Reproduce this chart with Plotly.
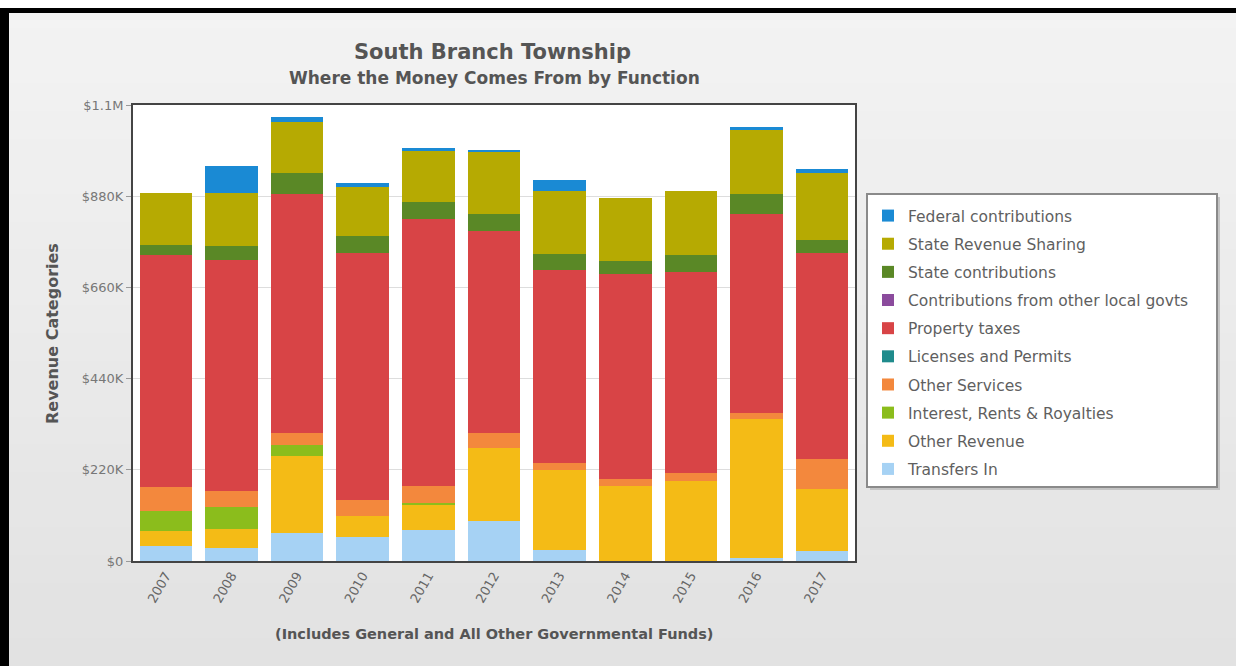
import plotly.graph_objects as go

years = ["2007", "2008", "2009", "2010", "2011", "2012", "2013", "2014", "2015", "2016", "2017"]

# values in thousands of dollars
transfers_in = [35, 32, 67, 59, 75, 97, 27, 0, 0, 8, 25]
other_revenue = [38, 45, 187, 50, 62, 175, 192, 180, 194, 335, 149]
interest_rents = [47, 53, 26, 0, 4, 0, 0, 0, 0, 0, 0]
other_services = [58, 40, 29, 38, 41, 36, 18, 18, 19, 14, 72]
licenses_permits = [0, 0, 0, 0, 0, 0, 0, 0, 0, 0, 0]
property_taxes = [559, 555, 576, 597, 642, 487, 466, 494, 484, 481, 496]
other_local = [0, 0, 0, 0, 0, 0, 0, 0, 0, 0, 0]
state_contrib = [26, 35, 52, 40, 42, 41, 38, 32, 40, 47, 32]
state_rev_sharing = [125, 127, 123, 117, 124, 153, 151, 151, 155, 157, 161]
federal = [0, 66, 10, 12, 6, 3, 27, 0, 0, 4, 10]

series = [
    ("Transfers In", transfers_in, "#a6d2f4"),
    ("Other Revenue", other_revenue, "#f4bb16"),
    ("Interest, Rents & Royalties", interest_rents, "#8bbd1c"),
    ("Other Services", other_services, "#f3883d"),
    ("Licenses and Permits", licenses_permits, "#1f8b8c"),
    ("Property taxes", property_taxes, "#d84446"),
    ("Contributions from other local govts", other_local, "#8b4b9d"),
    ("State contributions", state_contrib, "#5a8826"),
    ("State Revenue Sharing", state_rev_sharing, "#b6aa02"),
    ("Federal contributions", federal, "#1a8ad4"),
]

y_tickvals = [0, 220000, 440000, 660000, 880000, 1100000]
y_ticktext = ["$0", "$220K", "$440K", "$660K", "$880K", "$1.1M"]

fig = go.Figure()
n = len(series)
for i, (name, vals, color) in enumerate(series):
    fig.add_trace(go.Bar(
        x=years, y=[v * 1000 for v in vals], name=name,
        marker=dict(color=color, line=dict(width=0)),
        legendgroup=name, legendrank=n - i,
    ))

W, H = 1236, 666
L, R, T, B = 133, 855, 105, 561


def px(x):
    return (x - L) / (R - L)


def py(y):
    return (B - y) / (B - T)


font_main = "DejaVu Sans"

shapes = []
# subtle vertical gradient background
nb = 24
c_top, c_bot = 0xf3, 0xe2
for k in range(nb):
    y0 = k * H / nb
    y1 = (k + 1) * H / nb + 1
    c = round(c_top + (c_bot - c_top) * k / (nb - 1))
    shapes.append(dict(type="rect", xref="paper", yref="paper", x0=px(-5), x1=px(W + 5),
                       y0=py(y1), y1=py(y0), fillcolor=f"rgb({c},{c},{c})",
                       line=dict(width=0), layer="below"))
shapes += [
    # plot area
    dict(type="rect", xref="paper", yref="paper", x0=0, x1=1, y0=0, y1=1,
         fillcolor="white", line=dict(width=0), layer="below"),
    # legend box
    dict(type="rect", xref="paper", yref="paper", x0=px(870), x1=px(1220), y0=py(490), y1=py(197),
         fillcolor="#c4c4c4", line=dict(width=0), layer="below"),
    dict(type="rect", xref="paper", yref="paper", x0=px(867), x1=px(1217), y0=py(487), y1=py(194),
         fillcolor="white", line=dict(color="#8a8a8a", width=2), layer="below"),
    # white strip above the frame
    dict(type="rect", xref="paper", yref="paper", x0=px(-5), x1=px(1240), y0=py(8), y1=py(-5),
         fillcolor="white", line=dict(width=0), layer="below"),
    # black frame top/left
    dict(type="rect", xref="paper", yref="paper", x0=px(-5), x1=px(1240), y0=py(13), y1=py(8),
         fillcolor="black", line=dict(width=0), layer="below"),
    dict(type="rect", xref="paper", yref="paper", x0=px(-5), x1=px(9), y0=py(670), y1=py(8),
         fillcolor="black", line=dict(width=0), layer="below"),
]

annotations = [
    dict(text="<b>South Branch Township</b>", xref="paper", yref="paper", x=px(492), y=py(52),
         showarrow=False, font=dict(family=font_main, size=21, color="#555555"), xanchor="center", yanchor="middle"),
    dict(text="<b>Where the Money Comes From by Function</b>", xref="paper", yref="paper", x=px(494), y=py(78),
         showarrow=False, font=dict(family=font_main, size=17, color="#555555"), xanchor="center", yanchor="middle"),
    dict(text="<b>Revenue Categories</b>", xref="paper", yref="paper", x=px(52), y=py(334),
         showarrow=False, textangle=-90, font=dict(family=font_main, size=16, color="#555555"),
         xanchor="center", yanchor="middle"),
    dict(text="<b>(Includes General and All Other Governmental Funds)</b>", xref="paper", yref="paper",
         x=px(494), y=py(634), showarrow=False, font=dict(family=font_main, size=14.5, color="#555555"),
         xanchor="center", yanchor="middle"),
]

fig.update_layout(
    width=W, height=H,
    margin=dict(l=L, r=W - R, t=T, b=H - B, pad=0),
    barmode="stack",
    bargap=0.2,
    paper_bgcolor="#eeeeee",
    plot_bgcolor="rgba(0,0,0,0)",
    font=dict(family=font_main, color="#666666", size=12),
    showlegend=True,
    legend=dict(
        x=px(868), y=py(199), xanchor="left", yanchor="top",
        bgcolor="rgba(0,0,0,0)", borderwidth=0,
        traceorder="grouped", tracegroupgap=5,
        font=dict(family=font_main, size=15.5, color="#5f5f5f"),
    ),
    xaxis=dict(
        tickangle=-60, tickfont=dict(size=13, color="#666666"),
        showline=True, linecolor="#444444", linewidth=2, mirror=True,
        ticks="", showgrid=False,
    ),
    yaxis=dict(
        range=[0, 1100000], tickvals=y_tickvals, ticktext=y_ticktext,
        tickfont=dict(size=13, color="#777777"),
        showline=True, linecolor="#444444", linewidth=2, mirror=True,
        ticks="outside", ticklen=5, tickcolor="#999999",
        showgrid=True, gridcolor="#dddddd", gridwidth=1, zeroline=False,
    ),
    shapes=shapes,
    annotations=annotations,
)

fig.write_html("out.html")
